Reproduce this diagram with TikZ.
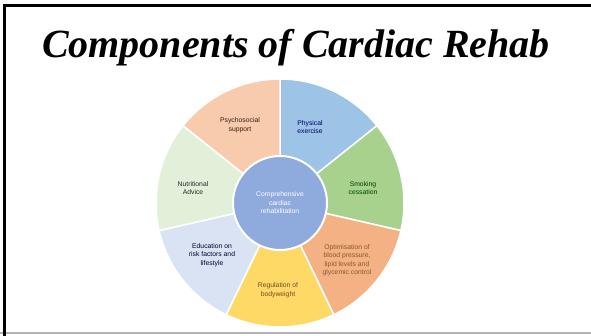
\documentclass[tikz,border=0pt]{standalone}
\usepackage{fontspec}
\setmainfont{Liberation Sans}
\newfontfamily\titlefont{Liberation Serif}
\usetikzlibrary{positioning}
\definecolor{physblue}{HTML}{9DC3E6}
\definecolor{smokgreen}{HTML}{A9D18E}
\definecolor{optorange}{HTML}{F4B183}
\definecolor{regyellow}{HTML}{FFD966}
\definecolor{edugray}{HTML}{DAE3F3}
\definecolor{nutrgreen}{HTML}{E2F0D9}
\definecolor{psypeach}{HTML}{F8CBAD}
\definecolor{hubblue}{HTML}{8FAADC}
\tikzset{
  seg/.style={draw=white, line width=1.5pt},
  lbl/.style={font=\fontsize{6.8}{8.5}\selectfont, align=center, inner sep=1pt},
  hub/.style={circle, draw=white, line width=2pt, fill=hubblue, minimum size=94pt, inner sep=0pt,
    text=white, font=\fontsize{6.8}{8.5}\selectfont, align=center},
  frame/.style={line width=3.5pt, line cap=rect}}

\begin{document}
\begin{tikzpicture}[x=1pt,y=1pt]
  \useasboundingbox (0,0) rectangle (591,335);
  % page frame
  \draw[gray!60, line width=2pt] (0,2) -- (591,2);
  \draw[frame] (4.5,0) -- (4.5,329.5);
  \draw[line width=3pt] (3,329.5) -- (591,329.5);
  \node[font=\titlefont\bfseries\itshape\fontsize{40}{42}\selectfont] (title) at (296,287) {Components of Cardiac Rehab};
  % wheel
  \coordinate (c) at (280,132);
  \foreach \a/\col in {90/physblue, 38.57/smokgreen, -12.86/optorange, -64.29/regyellow,
                       -115.71/edugray, 192.86/nutrgreen, 141.43/psypeach}
    {\draw[seg, fill=\col] (c) -- ++(\a:124) arc[start angle=\a, delta angle=-51.43, radius=124] -- cycle;}
  \node[hub] (hub) at (c) {Comprehensive\\cardiac\\rehabilitation};
  \node[lbl, text=black!75!brown] (psy) at (240,210) {Psychosocial\\support};
  \node[lbl, text=blue!40!black] (phys) at (310,208) {Physical\\exercise};
  \node[lbl, text=green!25!black] (smok) at (363,147) {Smoking\\cessation};
  \node[lbl, text=brown!70!black] (opt) at (347,75) {Optimisation of\\blood pressure,\\lipid levels and\\glycemic control};
  \node[lbl, text=brown!60!black] (reg) at (278,45) {Regulation of\\bodyweight};
  \node[lbl, text=blue!20!black] (edu) at (212,80) {Education on\\risk factors and\\lifestyle};
  \node[lbl, text=black!85] (nutr) at (193,147) {Nutritional\\Advice};
\end{tikzpicture}
\end{document}
